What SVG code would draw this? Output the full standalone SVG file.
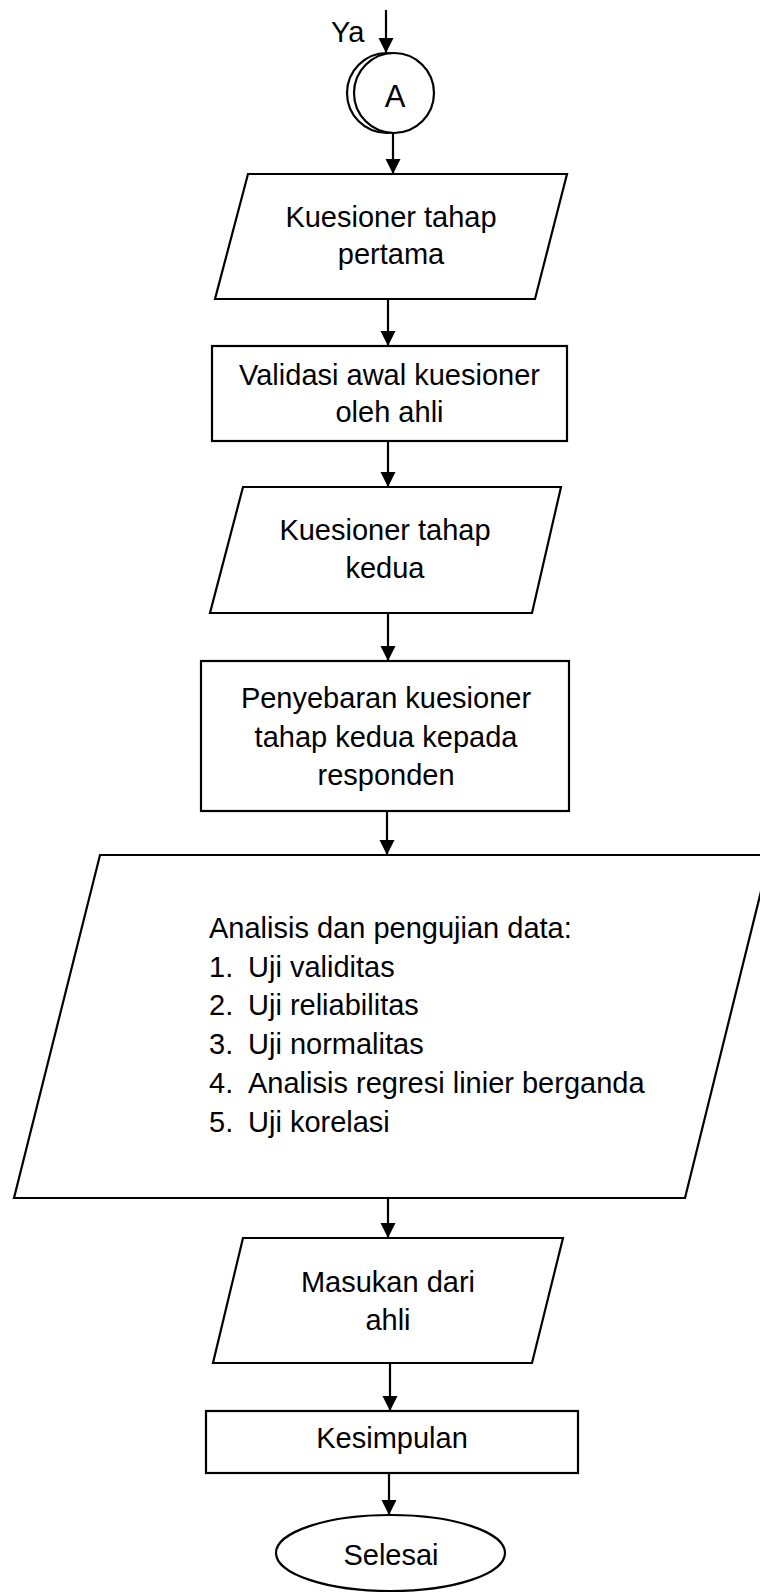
<svg xmlns="http://www.w3.org/2000/svg" width="760" height="1594" viewBox="0 0 760 1594">
<style>
.s{fill:#fff;stroke:#000;stroke-width:2.2}
.t{font-family:"Liberation Sans",Arial,sans-serif;font-size:29px;fill:#000}
.c{text-anchor:middle}
.e line{stroke:#000;stroke-width:2.2}
</style>
<defs>
<marker id="ah" markerUnits="userSpaceOnUse" markerWidth="16" markerHeight="16" refX="15" refY="7.5" orient="auto">
<path d="M0,0 L15,7.5 L0,15 Z" fill="#000"/>
</marker>
</defs>
<rect width="760" height="1594" fill="#fff"/>
<g id="edges" class="e">
<line x1="386" y1="10" x2="386" y2="53" marker-end="url(#ah)"/>
<line x1="393" y1="133" x2="393" y2="174" marker-end="url(#ah)"/>
<line x1="388" y1="299" x2="388" y2="346" marker-end="url(#ah)"/>
<line x1="388" y1="441" x2="388" y2="487" marker-end="url(#ah)"/>
<line x1="388" y1="613" x2="388" y2="661" marker-end="url(#ah)"/>
<line x1="387" y1="811" x2="387" y2="855" marker-end="url(#ah)"/>
<line x1="388" y1="1198" x2="388" y2="1238" marker-end="url(#ah)"/>
<line x1="390" y1="1363" x2="390" y2="1411" marker-end="url(#ah)"/>
<line x1="389" y1="1473" x2="389" y2="1515" marker-end="url(#ah)"/>
</g>
<g id="label-ya"><text class="t" x="331" y="42">Ya</text></g>
<g id="connector-a">
<circle class="s" cx="387" cy="93" r="40"/>
<circle class="s" cx="394" cy="93" r="40"/>
<text class="t c" x="395" y="107" style="font-size:31px">A</text>
</g>
<g id="kuesioner1">
<polygon class="s" points="248,174 567,174 535,299 215,299"/>
<text class="t c" x="391" y="227">Kuesioner tahap</text>
<text class="t c" x="391" y="264">pertama</text>
</g>
<g id="validasi">
<rect class="s" x="212" y="346" width="355" height="95"/>
<text class="t c" x="389.5" y="385">Validasi awal kuesioner</text>
<text class="t c" x="389.5" y="422">oleh ahli</text>
</g>
<g id="kuesioner2">
<polygon class="s" points="243,487 561,487 532,613 210,613"/>
<text class="t c" x="385" y="540">Kuesioner tahap</text>
<text class="t c" x="385" y="578">kedua</text>
</g>
<g id="penyebaran">
<rect class="s" x="201" y="661" width="368" height="150"/>
<text class="t c" x="386" y="708">Penyebaran kuesioner</text>
<text class="t c" x="386" y="747">tahap kedua kepada</text>
<text class="t c" x="386" y="785">responden</text>
</g>
<g id="analisis">
<polygon class="s" points="100,855 770,855 685,1198 14,1198"/>
<text class="t" x="209" y="938">Analisis dan pengujian data:</text>
<text class="t" x="209" y="977">1.</text><text class="t" x="248" y="977">Uji validitas</text>
<text class="t" x="209" y="1015">2.</text><text class="t" x="248" y="1015">Uji reliabilitas</text>
<text class="t" x="209" y="1054">3.</text><text class="t" x="248" y="1054">Uji normalitas</text>
<text class="t" x="209" y="1093">4.</text><text class="t" x="248" y="1093">Analisis regresi linier berganda</text>
<text class="t" x="209" y="1132">5.</text><text class="t" x="248" y="1132">Uji korelasi</text>
</g>
<g id="masukan">
<polygon class="s" points="243,1238 563,1238 532,1363 213,1363"/>
<text class="t c" x="388" y="1292">Masukan dari</text>
<text class="t c" x="388" y="1330">ahli</text>
</g>
<g id="kesimpulan">
<rect class="s" x="206" y="1411" width="372" height="62"/>
<text class="t c" x="392" y="1448">Kesimpulan</text>
</g>
<g id="selesai">
<ellipse class="s" cx="390.5" cy="1553" rx="114.5" ry="38"/>
<text class="t c" x="391" y="1565">Selesai</text>
</g>
</svg>
